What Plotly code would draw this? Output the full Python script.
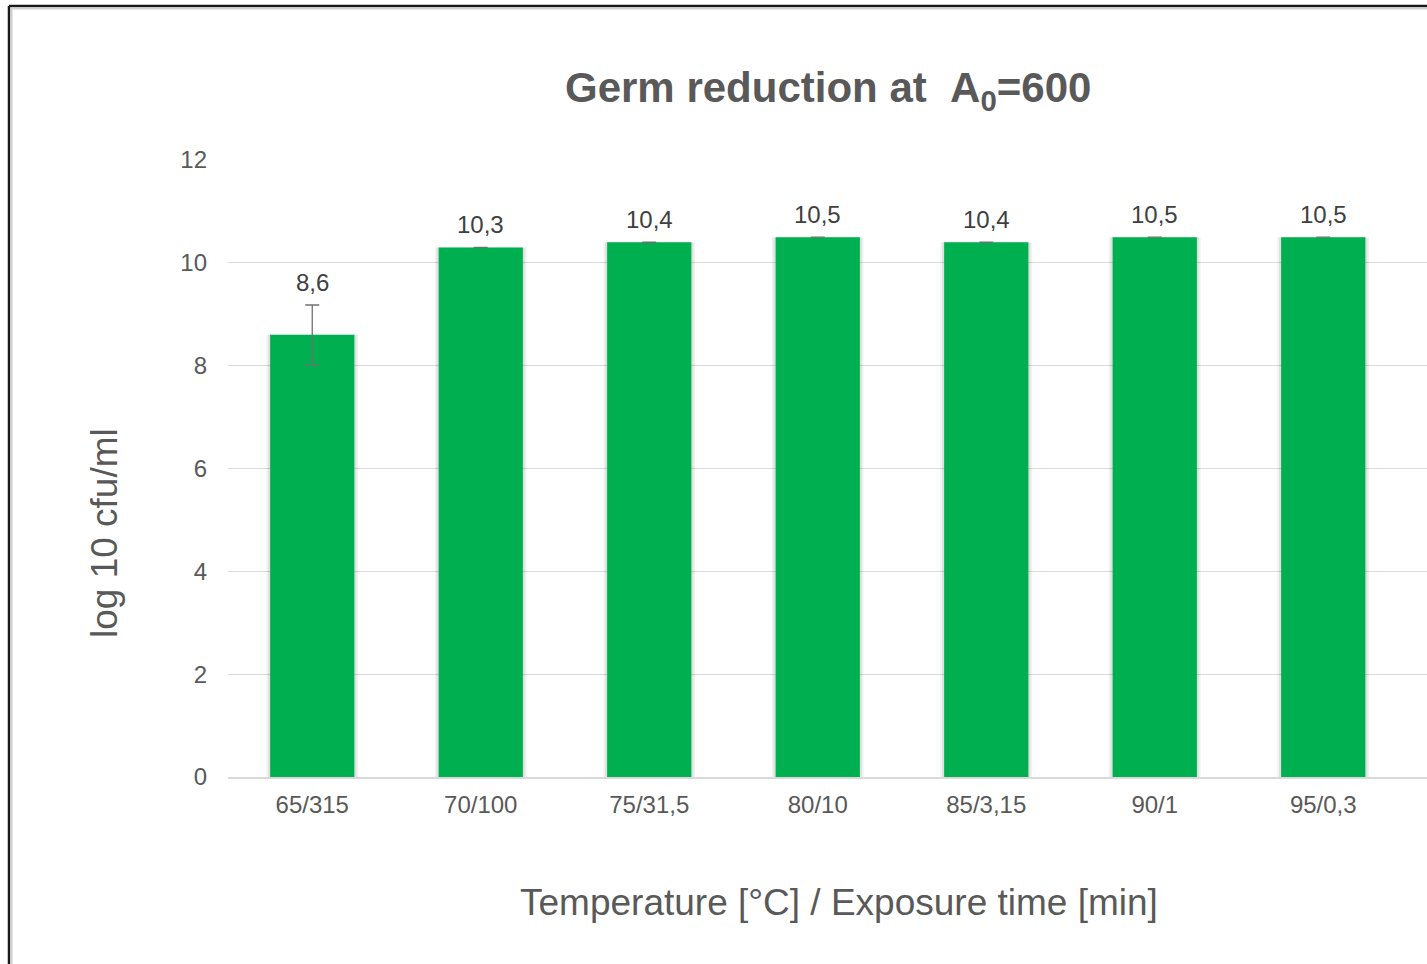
import plotly.graph_objects as go

categories = ["65/315", "70/100", "75/31,5", "80/10", "85/3,15", "90/1", "95/0,3"]
values = [8.6, 10.3, 10.4, 10.5, 10.4, 10.5, 10.5]
errors = [0.58, 0, 0, 0, 0, 0, 0]
labels = ["8,6", "10,3", "10,4", "10,5", "10,4", "10,5", "10,5"]
y_ticks = [0, 2, 4, 6, 8, 10, 12]

W, H = 1427, 964
PL, PR, PT, PB = 228, 1427, 160, 777  # plot area in screen pixels
L, T = PL, PT
R, B = W - PR, H - PB
PW, PH = PR - PL, PB - PT

def px(x):
    return (x - PL) / PW

def py(y):
    return (PB - y) / PH

FONT = "Liberation Sans, Arial, sans-serif"
GRAY = "#595959"
xs = list(range(len(categories)))

fig = go.Figure()
for w, a in [(0.545, 0.05), (0.525, 0.07)]:
    fig.add_trace(go.Bar(x=xs, y=values, width=w, marker=dict(color=f"rgba(0,0,0,{a})", line=dict(width=0)),
                         hoverinfo="skip", showlegend=False))
fig.add_trace(go.Bar(
    x=xs, y=values, width=0.5,
    marker=dict(color="#00B050", line=dict(width=0)),
    error_y=dict(type="data", array=errors, visible=True, color="#707070", thickness=1.3, width=7),
    showlegend=False,
))

tops = [v + e for v, e in zip(values, errors)]
for x, t, lab in zip(xs, tops, labels):
    fig.add_annotation(x=x, y=t, text=lab, showarrow=False, yanchor="bottom", yshift=7,
                       font=dict(family=FONT, size=24, color="#404040"))

fig.add_annotation(x=px(827.5), y=py(90), xref="paper", yref="paper",
                   text="<b>Germ reduction at \u00a0A<sub>0</sub>=600</b>",
                   showarrow=False, xanchor="center", yanchor="middle",
                   font=dict(family=FONT, size=42, color=GRAY))
fig.add_annotation(x=px(839), y=py(902), xref="paper", yref="paper", text="Temperature [°C] / Exposure time [min]",
                   showarrow=False, xanchor="center", yanchor="middle",
                   font=dict(family=FONT, size=37, color=GRAY))
fig.add_annotation(x=px(104), y=py(533), xref="paper", yref="paper", text="log 10 cfu/ml", textangle=-90,
                   showarrow=False, xanchor="center", yanchor="middle",
                   font=dict(family=FONT, size=37, color=GRAY))

# outer frame (cropped chart border)
fig.add_shape(type="line", xref="paper", yref="paper", x0=px(9), x1=px(1440), y0=py(6), y1=py(6),
              line=dict(color="#1a1a1a", width=2.5))
fig.add_shape(type="line", xref="paper", yref="paper", x0=px(9), x1=px(9), y0=py(6), y1=py(980),
              line=dict(color="#1a1a1a", width=2.5))
fig.add_shape(type="line", xref="paper", yref="paper", x0=px(10.5), x1=px(1440), y0=py(8.5), y1=py(8.5),
              line=dict(color="#cfcfcf", width=2))
fig.add_shape(type="line", xref="paper", yref="paper", x0=px(11.5), x1=px(11.5), y0=py(8), y1=py(980),
              line=dict(color="#cfcfcf", width=2))

band = 168.5
fig.update_layout(
    width=W, height=H,
    margin=dict(l=L, r=R, t=T, b=B, pad=0),
    paper_bgcolor="white", plot_bgcolor="white",
    barmode="overlay",
    hovermode=False,
    font=dict(family=FONT, color=GRAY),
    xaxis=dict(
        tickmode="array", tickvals=xs, ticktext=categories,
        range=[-0.5, -0.5 + PW / band],
        showgrid=False, zeroline=False,
        showline=True, linecolor="#D9D9D9", linewidth=1.5,
        ticks="", tickfont=dict(family=FONT, size=24, color=GRAY),
        ticklabelstandoff=5,
    ),
    yaxis=dict(
        range=[0, 12], tickvals=y_ticks,
        showgrid=True, gridcolor="#D9D9D9", gridwidth=1,
        zeroline=False, showline=False, ticks="",
        tickfont=dict(family=FONT, size=24, color=GRAY),
        ticklabelstandoff=20,
    ),
)

fig.write_html("out.html", config={"displayModeBar": False},
               post_script="document.body.style.margin='0';document.body.style.overflow='hidden';")
